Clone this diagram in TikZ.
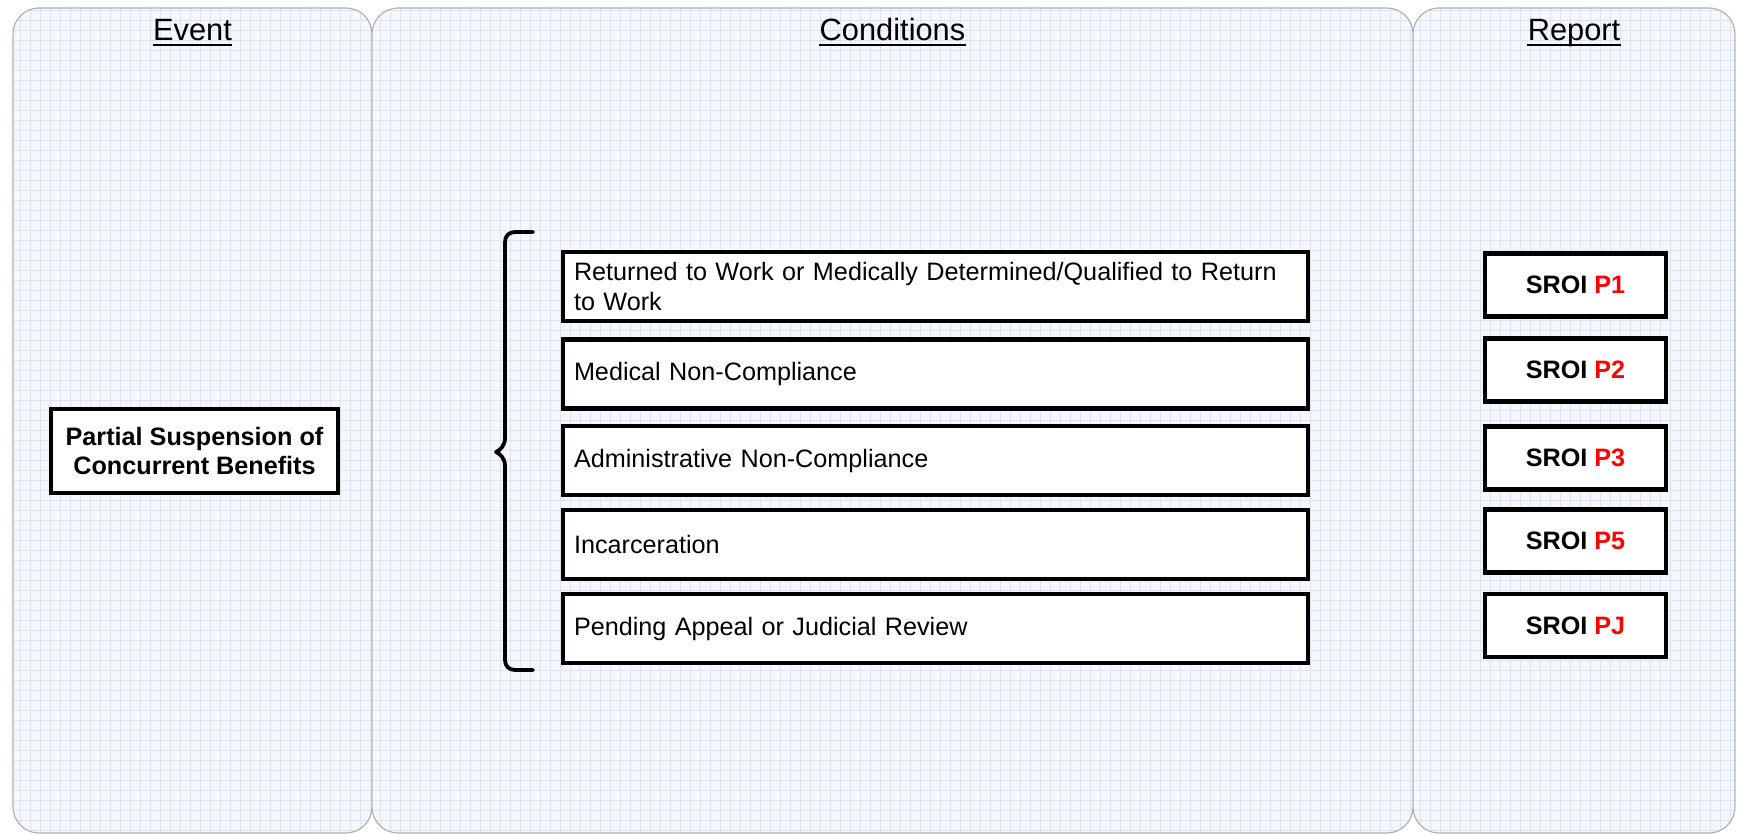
\documentclass[tikz,border=0pt]{standalone}
\usepackage{fontspec}
\setmainfont{Liberation Sans}
\usepackage{tikz}
\definecolor{lanegrid}{RGB}{221,227,240}
\definecolor{lanebg}{RGB}{244,247,252}
\definecolor{laneedge}{RGB}{178,178,178}
\definecolor{sroired}{RGB}{255,0,0}
\newcommand{\boxfont}{\fontsize{12.6pt}{15pt}\selectfont}
\newcommand{\headfont}{\fontsize{15.4pt}{18pt}\selectfont}

\begin{document}
\begin{tikzpicture}[x=0.5pt,y=-0.5pt,
    head/.style={inner sep=0pt, anchor=base, font=\headfont},
    headrule/.style={line width=1pt},
    condbox/.style={draw, line width=2.2pt, fill=white, minimum height=34.5pt,
        text width=361.5pt, inner xsep=5.5pt, align=left, font=\boxfont},
    sroibox/.style={draw, line width=2.2pt, fill=white, minimum width=90.5pt,
        minimum height=31.5pt, font=\boxfont\bfseries},
    eventbox/.style={draw, line width=2.2pt, fill=white, minimum width=143.5pt,
        minimum height=42pt, align=center, font=\fontsize{12.6pt}{14.5pt}\selectfont\bfseries}]
\useasboundingbox (0,0) rectangle (1742,835);
% lanes, from the left: event, conditions, report
\begin{scope}
    \clip[rounded corners=13pt] (13,8) rectangle (372,833);
    \fill[lanebg] (13,8) rectangle (372,833);
    \draw[lanegrid, line width=0.45pt, step=5pt] (13,8) grid (372,833);
\end{scope}
\begin{scope}
    \clip[rounded corners=13pt] (372,8) rectangle (1413,833);
    \fill[lanebg] (372,8) rectangle (1413,833);
    \draw[lanegrid, line width=0.45pt, step=5pt] (372,8) grid (1413,833);
\end{scope}
\begin{scope}
    \clip[rounded corners=13pt] (1413,8) rectangle (1735,833);
    \fill[lanebg] (1413,8) rectangle (1735,833);
    \draw[lanegrid, line width=0.45pt, step=5pt] (1413,8) grid (1735,833);
\end{scope}
\draw[laneedge, line width=0.6pt, rounded corners=13pt] (13,8) rectangle (372,833)
    (372,8) rectangle (1413,833)
    (1413,8) rectangle (1735,833);

\node[head] (evhead) at (192.5,40) {Event};
\node[head] (cohead) at (892.5,40) {Conditions};
\node[head] (rphead) at (1574,40) {Report};
\draw[headrule] ([yshift=-2.5pt]evhead.base west) -- ([yshift=-2.5pt]evhead.base east);
\draw[headrule] ([yshift=-2.5pt]cohead.base west) -- ([yshift=-2.5pt]cohead.base east);
\draw[headrule] ([yshift=-2.5pt]rphead.base west) -- ([yshift=-2.5pt]rphead.base east);

\node[eventbox] (event) at (194.5,451) {Partial Suspension of\\Concurrent Benefits};

% the brace: top hook, then the tip, then the bottom hook
\draw[line width=1.9pt, line join=round, line cap=round] (533,232) -- (515,232)
    .. controls (509,232) and (505,236) .. (505,242) -- (505,438)
    .. controls (505,446) and (500,450) .. (496,452)
    .. controls (500,454) and (505,458) .. (505,466)
    -- (505,660) .. controls (505,666) and (509,670) .. (515,670) -- (533,670);

\node[condbox] (work) at (935.5,286.5) {Returned to Work or Medically Determined/Qualified to Return\\to Work};
\node[condbox] (medical) at (935.5,374) {Medical Non-Compliance};
\node[condbox] (admin) at (935.5,460.5) {Administrative Non-Compliance};
\node[condbox] (prison) at (935.5,544.5) {Incarceration};
\node[condbox] (appeal) at (935.5,628.5) {Pending Appeal or Judicial Review};

\node[sroibox] (pone) at (1575.5,285) {SROI \textcolor{sroired}{P1}};
\node[sroibox] (ptwo) at (1575.5,370) {SROI \textcolor{sroired}{P2}};
\node[sroibox] (pthree) at (1575.5,458) {SROI \textcolor{sroired}{P3}};
\node[sroibox] (pfive) at (1575.5,541) {SROI \textcolor{sroired}{P5}};
\node[sroibox] (pj) at (1575.5,625.5) {SROI \textcolor{sroired}{PJ}};
\end{tikzpicture}
\end{document}
